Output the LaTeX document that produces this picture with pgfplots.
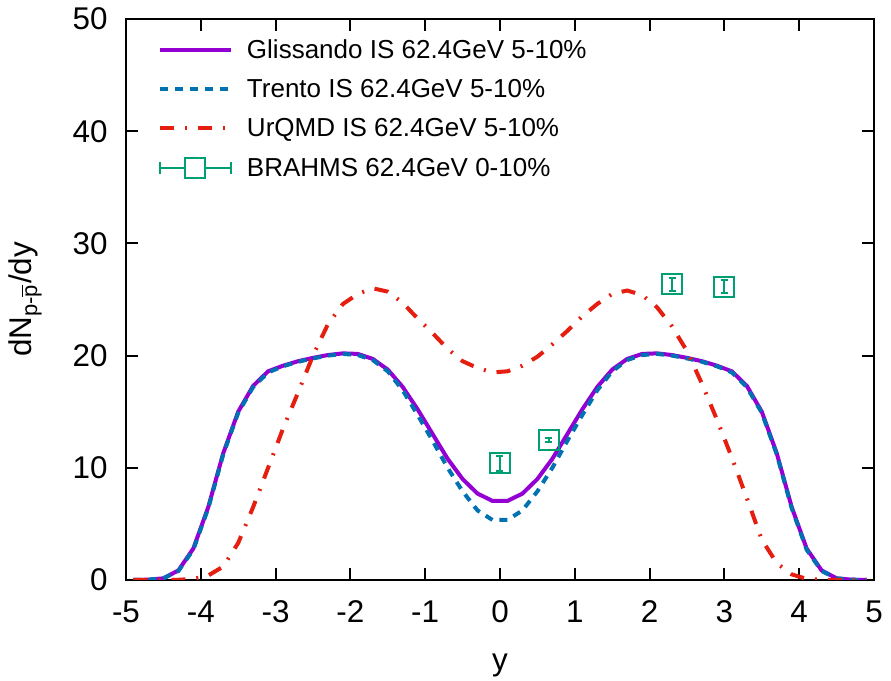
\documentclass[border=0pt]{standalone}
\usepackage{pgfplots}
\pgfplotsset{compat=1.18}
\usepackage{fontspec}
\setmainfont{Liberation Sans}
\definecolor{gliss}{HTML}{9400D3}
\definecolor{trento}{HTML}{0072B2}
\definecolor{urqmd}{HTML}{E51E10}
\definecolor{brahms}{HTML}{009E73}

\pgfplotstableread{
x y
-4.9 0
-4.7 0.03
-4.5 0.15
-4.3 0.85
-4.1 2.8
-3.9 6.5
-3.7 11.3
-3.5 15.0
-3.3 17.3
-3.1 18.6
-2.9 19.1
-2.7 19.5
-2.5 19.8
-2.3 20.05
-2.1 20.2
-1.9 20.15
-1.7 19.7
-1.5 18.75
-1.3 17.2
-1.1 15.2
-0.9 13.0
-0.7 10.8
-0.5 9.0
-0.3 7.7
-0.1 7.05
0.1 7.05
0.3 7.7
0.5 9.0
0.7 10.8
0.9 13.0
1.1 15.2
1.3 17.2
1.5 18.75
1.7 19.7
1.9 20.15
2.1 20.2
2.3 20.05
2.5 19.8
2.7 19.5
2.9 19.1
3.1 18.6
3.3 17.3
3.5 15.0
3.7 11.3
3.9 6.5
4.1 2.8
4.3 0.85
4.5 0.15
4.7 0.03
4.9 0
}\gliss

\pgfplotstableread{
x y
-4.9 0
-4.7 0.03
-4.5 0.15
-4.3 0.8
-4.1 2.7
-3.9 6.4
-3.7 11.2
-3.5 14.9
-3.3 17.2
-3.1 18.5
-2.9 19.05
-2.7 19.45
-2.5 19.75
-2.3 20.0
-2.1 20.15
-1.9 20.05
-1.7 19.6
-1.5 18.6
-1.3 16.9
-1.1 14.7
-0.9 12.4
-0.7 10.0
-0.5 7.9
-0.3 6.2
-0.1 5.35
0.1 5.35
0.3 6.2
0.5 7.9
0.7 10.0
0.9 12.4
1.1 14.7
1.3 16.9
1.5 18.6
1.7 19.6
1.9 20.05
2.1 20.15
2.3 20.0
2.5 19.75
2.7 19.45
2.9 19.05
3.1 18.5
3.3 17.2
3.5 14.9
3.7 11.2
3.9 6.4
4.1 2.7
4.3 0.8
4.5 0.15
4.7 0.03
4.9 0
}\trento

\pgfplotstableread{
x y
-4.9 0
-4.5 0
-4.3 0.02
-4.1 0.1
-3.9 0.4
-3.7 1.2
-3.5 3.3
-3.3 6.5
-3.1 10.0
-2.9 13.5
-2.7 16.7
-2.5 20.0
-2.3 22.8
-2.1 24.6
-1.9 25.5
-1.7 26.0
-1.5 25.7
-1.3 24.7
-1.1 23.3
-0.9 22.0
-0.7 20.6
-0.5 19.5
-0.3 18.9
-0.1 18.5
0.1 18.6
0.3 19.1
0.5 19.9
0.7 21.0
0.9 22.2
1.1 23.5
1.3 24.6
1.5 25.5
1.7 25.8
1.9 25.4
2.1 24.3
2.3 22.6
2.5 20.4
2.7 17.5
2.9 14.3
3.1 10.9
3.3 7.3
3.5 3.6
3.7 1.5
3.9 0.5
4.1 0.1
4.3 0.02
4.5 0
4.9 0
}\urqmd

\pgfplotstableread{
x y e
0.0 10.4 0.65
0.65 12.5 0.2
2.3 26.35 0.6
3.0 26.15 0.6
}\brahmsdata

\begin{document}
\begin{tikzpicture}
\useasboundingbox (-63pt,-50.5pt) rectangle (382.5pt,290pt);
\begin{axis}[
  at={(0,0)}, anchor=south west,
  scale only axis,
  width=374pt, height=280.5pt,
  xmin=-5, xmax=5, ymin=0, ymax=50,
  xtick={-5,-4,-3,-2,-1,0,1,2,3,4,5},
  xticklabels={-5,-4,-3,-2,-1,0,1,2,3,4,5},
  ytick={0,10,20,30,40,50},
  yticklabels={0,10,20,30,40,50},
  tick align=inside,
  major tick length=6pt,
  axis line style={line width=1pt},
  every tick/.style={black, line width=1pt},
  font=\fontsize{15.7}{18}\selectfont,
  xticklabel style={anchor=center, inner sep=0pt, yshift=-16pt},
  yticklabel style={anchor=east, inner sep=0pt, xshift=-9pt},
  xlabel={y},
  ylabel={dN\textsubscript{p-$\overline{\mbox{p}}$}/dy},
  xlabel style={at={(axis description cs:0.5,-0.1515)}, anchor=center},
  ylabel style={at={(axis description cs:-0.135,0.5)}, anchor=center},
  legend cell align=left,
  legend style={at={(rel axis cs:0,1)}, anchor=north west,
    xshift=16pt, yshift=-10.25pt,
    draw=none, fill=none, inner sep=0pt, outer sep=0pt,
    row sep=9pt, column sep=7pt,
    nodes={inner sep=0pt, text height=9.5pt, text depth=1pt},
    font=\fontsize{13}{15}\selectfont},
]
\addplot[gliss, line width=2pt, mark=none,
  legend image code/.code={\draw[gliss, line width=2pt] (0pt,0pt)--(35.5pt,0pt);}]
  table[x=x,y=y] {\gliss};
\addlegendentry{Glissando IS 62.4GeV 5-10\%}
\addplot[trento, line width=2pt, mark=none, dash pattern=on 4pt off 3.5pt,
  legend image code/.code={\draw[trento, line width=2pt, dash pattern=on 4pt off 3.5pt] (0pt,0pt)--(35.5pt,0pt);}]
  table[x=x,y=y] {\trento};
\addlegendentry{Trento IS 62.4GeV 5-10\%}
\addplot[urqmd, line width=2pt, mark=none, dash pattern=on 7pt off 5.5pt on 1pt off 5.5pt,
  legend image code/.code={\draw[urqmd, line width=2pt, dash pattern=on 7pt off 5.5pt on 1pt off 5.5pt] (0pt,0pt)--(35.5pt,0pt);}]
  table[x=x,y=y] {\urqmd};
\addlegendentry{UrQMD IS 62.4GeV 5-10\%}
\addplot[brahms, only marks, mark=square, mark size=5pt,
  mark options={line width=1pt},
  legend image code/.code={
    \draw[brahms, line width=1pt] (0pt,-3pt)--(0pt,3pt) (0pt,0pt)--(35.5pt,0pt) (35.5pt,-3pt)--(35.5pt,3pt);
    \draw[brahms, line width=1pt, fill=white] (12.75pt,-5pt) rectangle (22.75pt,5pt);},
  error bars/.cd, y dir=both, y explicit,
  error bar style={line width=1pt, brahms},
  error mark options={rotate=90, mark size=1.75pt, line width=1pt, brahms}]
  table[x=x, y=y, y error=e] {\brahmsdata};
\addlegendentry{BRAHMS 62.4GeV 0-10\%}
\end{axis}
\end{tikzpicture}
\end{document}
